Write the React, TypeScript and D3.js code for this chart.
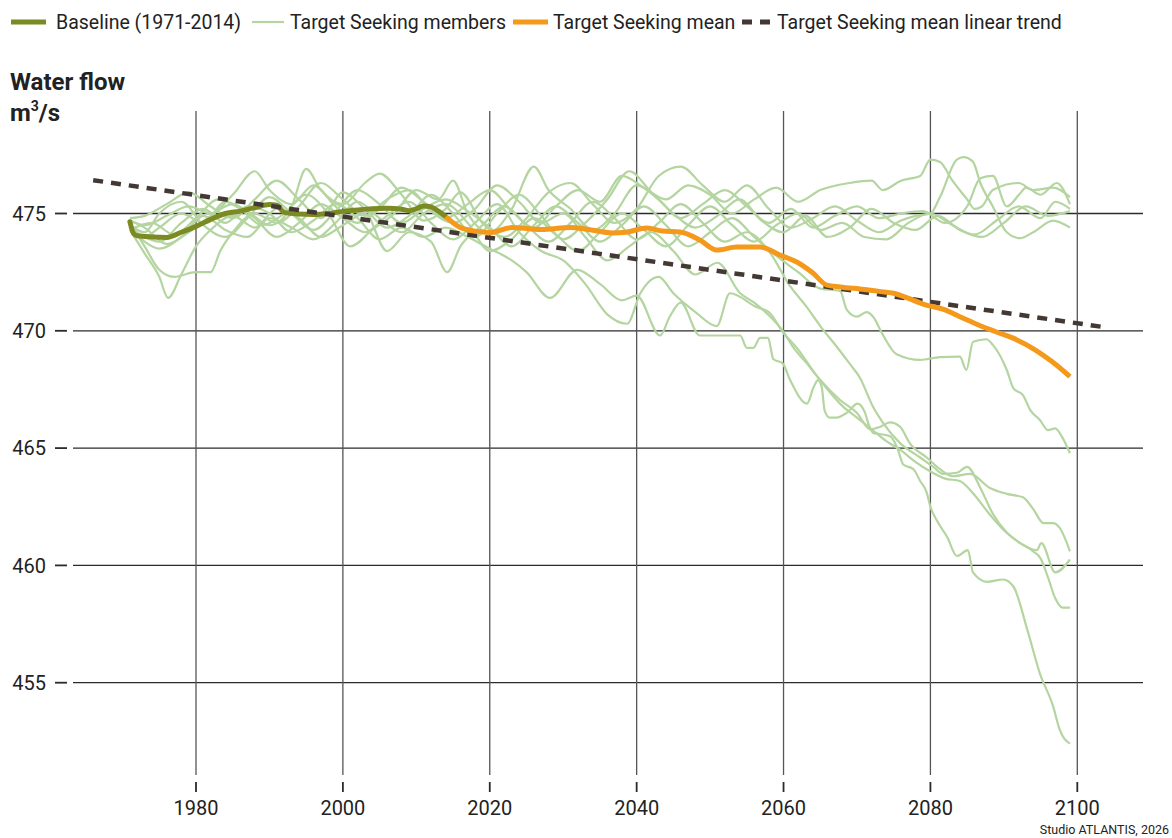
import React from "react";
import * as d3 from "d3";

type Pt = [number, number];

// Observed baseline mean, 1971-2014
const baseline: Pt[] = [
  [1971, 474.65], [1971.5, 474.15], [1972, 474.05], [1974, 474.0], [1976, 473.98],
  [1978, 474.2], [1980, 474.45], [1982, 474.75], [1984, 475.0], [1986, 475.1],
  [1988, 475.25], [1990, 475.38], [1991, 475.35], [1992, 475.05], [1994, 474.98],
  [1996, 474.96], [1998, 475.0], [2000, 475.09], [2002, 475.15], [2004, 475.2],
  [2006, 475.22], [2008, 475.18], [2009, 475.12], [2010, 475.2], [2011, 475.32],
  [2012, 475.28], [2013, 475.1], [2014, 474.87],
];

// Ensemble mean of the Target Seeking scenario
const targetMean: Pt[] = [
  [2014, 474.87], [2016, 474.4], [2018, 474.25], [2020, 474.19], [2023, 474.4],
  [2027, 474.32], [2031, 474.4], [2033, 474.34], [2036.8, 474.17], [2038.5, 474.2],
  [2041.4, 474.38], [2043.5, 474.25], [2045.9, 474.21], [2048.6, 473.87], [2050.9, 473.44],
  [2053.6, 473.57], [2056.8, 473.57], [2059.5, 473.23], [2061.8, 472.93], [2064, 472.46],
  [2065.9, 471.95], [2067.7, 471.87], [2071, 471.76], [2073, 471.68], [2075, 471.6],
  [2076.4, 471.46], [2079.2, 471.12], [2081.9, 470.9], [2084, 470.6], [2086.4, 470.27],
  [2089, 469.95], [2091.1, 469.71], [2094.2, 469.2], [2096.5, 468.7], [2099, 468.05],
];

// Linear trend of the scenario mean
const trend: Pt[] = [[1966, 476.42], [2104, 470.14]];

// Individual ensemble members
const memberA: Pt[] = [
  [1971, 474.7], [1973, 474.5], [1976, 474.9], [1979, 475.3], [1982, 475.0], [1985, 475.8],
  [1988, 476.8], [1990, 476.0], [1993, 475.4], [1996, 476.2], [1999, 475.3], [2002, 474.6],
  [2005, 475.2], [2008, 476.1], [2011, 475.5], [2014, 474.8], [2017, 475.4], [2020, 476.0],
  [2023, 475.1], [2026, 474.4], [2029, 475.3], [2032, 476.0], [2035, 475.5], [2038, 476.6],
  [2041, 476.1], [2044, 475.6], [2047, 476.2], [2050, 475.8], [2053, 475.0], [2056, 475.6],
  [2059, 476.1], [2062, 475.5], [2065, 476.0], [2069, 476.3], [2072, 476.4], [2073.5, 476.0],
  [2076, 476.4], [2078.6, 476.6], [2080, 477.3], [2081.3, 477.2], [2083, 476.4], [2085, 475.6],
  [2086, 475.2], [2087, 475.3], [2088.5, 476.0], [2092, 476.3], [2094, 476.0], [2096.7, 476.1],
  [2099, 475.7],
];
const memberB: Pt[] = [
  [1971, 474.5], [1973, 474.0], [1975, 474.4], [1978, 475.0], [1981, 474.6], [1984, 475.5],
  [1987, 475.1], [1990, 474.5], [1993, 475.3], [1995, 476.9], [1997, 476.0], [2000, 475.4],
  [2003, 476.3], [2005, 476.7], [2008, 475.8], [2011, 474.7], [2014, 475.2], [2016, 475.9],
  [2019, 474.6], [2022, 474.0], [2025, 474.8], [2028, 475.9], [2031, 476.3], [2034, 475.4],
  [2037, 474.6], [2040, 475.2], [2043, 476.6], [2046, 477.0], [2049, 476.2], [2052, 475.5],
  [2055, 476.2], [2058, 475.2], [2061, 474.4], [2064, 474.8], [2067, 475.3], [2070, 474.7],
  [2073, 474.2], [2076, 474.7], [2078, 474.9], [2080, 475.0], [2081.3, 475.7], [2083.6, 477.3],
  [2084.5, 477.4], [2085.8, 477.2], [2086.8, 476.3], [2088.5, 475.3], [2090.4, 474.2],
  [2092.2, 473.95], [2094, 474.2], [2096.7, 474.7], [2099, 474.4],
];
const memberC: Pt[] = [
  [1971, 474.3], [1974, 474.6], [1977, 474.1], [1980, 474.8], [1983, 475.6], [1986, 475.2],
  [1989, 474.5], [1992, 475.0], [1995, 475.8], [1998, 475.0], [2001, 473.6], [2004, 474.3],
  [2007, 475.0], [2010, 476.0], [2013, 475.6], [2015, 476.4], [2017, 475.0], [2020, 474.2],
  [2023, 475.2], [2026, 477.0], [2028, 476.0], [2031, 475.2], [2034, 474.3], [2037, 475.0],
  [2040, 476.2], [2043, 475.6], [2046, 474.8], [2049, 475.4], [2052, 476.0], [2055, 475.3],
  [2058, 474.6], [2061, 475.2], [2064, 474.4], [2067, 474.9], [2070, 475.3], [2073, 474.8],
  [2076, 475.0], [2079, 475.1], [2082, 474.6], [2085, 475.3], [2086.8, 476.5], [2088.5, 476.6],
  [2090.4, 475.3], [2092.2, 475.85], [2093, 476.1], [2095, 475.8], [2097.2, 476.3], [2099, 475.4],
];
const memberD: Pt[] = [
  [1971, 474.8], [1973, 474.9], [1976, 475.4], [1979, 475.9], [1982, 475.3], [1985, 474.8],
  [1988, 475.6], [1991, 476.4], [1994, 475.6], [1997, 474.8], [2000, 475.9], [2003, 475.2],
  [2006, 474.4], [2009, 474.9], [2012, 475.8], [2015, 475.0], [2018, 474.0], [2021, 475.0],
  [2024, 475.8], [2027, 474.9], [2030, 473.9], [2033, 474.6], [2036, 475.6], [2039, 476.8],
  [2042, 475.9], [2045, 475.0], [2048, 474.4], [2051, 474.9], [2054, 475.6], [2057, 474.7],
  [2060, 474.2], [2063, 474.9], [2066, 474.0], [2069, 474.4], [2072, 475.2], [2075, 474.6],
  [2078, 474.3], [2081, 474.9], [2084, 474.3], [2087, 474.0], [2090, 474.6], [2093, 475.3],
  [2096, 474.9], [2099, 475.1],
];
const memberE: Pt[] = [
  [1971, 474.4], [1973, 473.8], [1975, 473.5], [1978, 474.0], [1981, 474.9], [1984, 474.3],
  [1987, 474.0], [1990, 474.8], [1993, 474.4], [1996, 473.9], [1999, 474.6], [2002, 475.5],
  [2005, 474.8], [2008, 474.2], [2011, 475.0], [2014, 475.4], [2017, 474.6], [2020, 473.4],
  [2023, 473.9], [2026, 474.8], [2029, 474.1], [2032, 473.4], [2035, 474.2], [2038, 475.0],
  [2041, 474.3], [2044, 473.6], [2047, 474.5], [2050, 475.3], [2053, 474.5], [2056, 473.8],
  [2059, 474.5], [2062, 475.0], [2065, 474.3], [2068, 474.6], [2071, 474.0], [2074, 473.9],
  [2077, 474.6], [2080, 475.0], [2083, 474.5], [2086, 474.1], [2089, 474.7], [2092, 475.3],
  [2095, 474.8], [2097, 475.5], [2099, 475.2],
];
const memberF: Pt[] = [
  [1971, 474.5], [1973, 474.2], [1975, 475.0], [1978, 475.5], [1981, 474.5], [1984, 474.0],
  [1987, 474.8], [1990, 475.7], [1993, 475.0], [1996, 474.3], [1999, 475.1], [2002, 476.0],
  [2005, 475.4], [2008, 474.6], [2011, 475.2], [2014, 475.6], [2017, 475.1], [2020, 474.4],
  [2023, 473.6], [2026, 474.5], [2029, 475.3], [2032, 474.6], [2035, 473.8], [2038, 474.5],
  [2041, 475.3], [2044, 474.5], [2047, 473.6], [2050, 474.2], [2053, 474.8], [2056, 474.0],
  [2059, 473.2], [2062, 472.5], [2065, 471.8], [2067.7, 471.7], [2068.6, 470.9], [2070, 470.6],
  [2071.3, 470.8], [2072.2, 470.6], [2073.4, 469.9], [2075.4, 469.0], [2078.6, 468.76],
  [2081.3, 468.88], [2084, 468.9], [2084.9, 468.33], [2085.8, 469.53], [2087.6, 469.64],
  [2088.5, 469.4], [2090.4, 468.33], [2091.3, 467.55], [2092.6, 467.26], [2093.6, 466.62],
  [2094.9, 466.2], [2096, 465.77], [2097, 465.84], [2097.9, 465.49], [2099, 464.78],
];
const memberG: Pt[] = [
  [1971, 474.6], [1973, 473.6], [1975, 472.6], [1977, 472.3], [1980, 472.5], [1982, 472.5],
  [1983.3, 473.4], [1985, 474.2], [1988, 475.0], [1991, 474.6], [1994, 475.3], [1997, 476.3],
  [2000, 475.6], [2003, 474.9], [2006, 475.6], [2009, 476.0], [2012, 475.1], [2015, 474.6],
  [2018, 475.2], [2021, 476.2], [2024, 475.5], [2027, 474.6], [2030, 475.0], [2033, 474.0],
  [2036, 473.0], [2039, 473.6], [2042, 474.2], [2045, 473.4], [2048, 472.4], [2051, 472.9],
  [2054.1, 471.6], [2056, 471.2], [2058.2, 470.6], [2059.9, 470.0], [2061.3, 469.3],
  [2063.2, 468.6], [2065, 467.9], [2067.7, 467.05], [2070, 466.5], [2071.8, 465.8],
  [2073.1, 465.9], [2074.5, 466.1], [2075.9, 465.9], [2077.2, 465.2], [2079.5, 464.6],
  [2081.3, 464.1], [2083, 463.8], [2085.4, 463.9], [2088.1, 463.3], [2090.4, 463.05],
  [2092.6, 462.9], [2094, 462.4], [2095.4, 461.8], [2096.7, 461.8], [2097.6, 461.6], [2099, 460.6],
];
const memberH: Pt[] = [
  [1971, 474.3], [1973, 473.3], [1975, 472.3], [1976.2, 471.4], [1978, 472.4], [1980, 473.6],
  [1982, 474.3], [1985, 474.9], [1988, 474.4], [1991, 475.2], [1994, 474.8], [1997, 474.0],
  [2000, 474.5], [2003, 475.0], [2006, 473.4], [2009, 474.2], [2012, 473.8], [2014.2, 472.5],
  [2016, 473.6], [2019, 474.5], [2022, 475.3], [2025, 474.5], [2028, 473.8], [2031, 474.6],
  [2034, 475.5], [2037, 474.8], [2040, 473.9], [2043, 474.6], [2046, 475.4], [2049, 474.6],
  [2052, 473.8], [2055, 474.2], [2058, 473.4], [2060.9, 471.9], [2063.2, 471.0], [2065, 470.2],
  [2067.3, 469.3], [2069, 468.6], [2070.4, 468.0], [2072.2, 466.75], [2073.5, 466.1],
  [2075.9, 465.2], [2078.6, 464.6], [2080.4, 464.2], [2081.7, 463.9], [2083.6, 463.95],
  [2085, 464.2], [2086.8, 463.3], [2088.5, 462.2], [2090.4, 461.4], [2092.2, 460.95],
  [2094.5, 460.65], [2095.1, 460.95], [2097, 459.7], [2099, 460.25],
];
const memberI: Pt[] = [
  [1971, 474.7], [1973, 474.4], [1976, 473.7], [1979, 474.2], [1982, 474.9], [1985, 475.4],
  [1988, 474.8], [1991, 474.0], [1994, 474.6], [1997, 475.4], [2000, 474.8], [2003, 474.2],
  [2006, 474.9], [2009, 475.5], [2012, 474.6], [2015, 473.9], [2018, 474.6], [2021, 475.4],
  [2024, 474.2], [2027, 473.4], [2030, 473.0], [2033, 472.0], [2036, 470.7], [2038.7, 470.3],
  [2040.5, 471.6], [2043, 472.3], [2045, 471.6], [2048, 470.8], [2050.9, 470.2], [2052.7, 471.6],
  [2056.4, 471.0], [2058, 470.8], [2060, 469.9], [2062, 469.2], [2064, 468.3], [2066, 467.5],
  [2068, 466.8], [2070, 466.3], [2072, 465.8], [2074, 465.3], [2076, 464.9], [2078, 464.4],
  [2080, 464.0], [2082, 463.7], [2084, 463.6], [2086, 463.0], [2088, 462.2], [2090, 461.5],
  [2092, 461.0], [2094, 460.6], [2095, 460.3], [2096, 459.5], [2097, 458.6], [2098, 458.2],
  [2099, 458.2],
];
const memberJ: Pt[] = [
  [1971, 474.4], [1973, 474.0], [1975, 473.8], [1978, 474.6], [1981, 475.2], [1984, 474.6],
  [1987, 475.3], [1990, 475.0], [1993, 474.2], [1996, 474.7], [1999, 475.4], [2002, 474.8],
  [2005, 473.9], [2008, 474.4], [2011, 474.0], [2014, 474.4], [2017, 474.0], [2020, 473.5],
  [2023, 473.0], [2025, 472.5], [2028.2, 471.4], [2031.9, 472.6], [2035, 472.0], [2038, 471.3],
  [2040, 471.5], [2043.2, 469.8], [2044.5, 470.6], [2046, 471.2], [2048.6, 469.8], [2051, 469.8],
  [2054.1, 469.8], [2055, 469.27], [2055.9, 469.27], [2056.8, 469.7], [2057.9, 469.7],
  [2058.6, 468.8], [2059.9, 468.6], [2060.9, 467.9], [2063.2, 466.9], [2064.1, 467.6],
  [2064.7, 467.9], [2065.2, 467.6], [2065.6, 466.6], [2066.3, 466.3], [2067.2, 466.3],
  [2068.6, 466.5], [2070.1, 466.9], [2071.1, 466.5], [2071.5, 466.1], [2072.2, 465.65],
  [2073.1, 465.6], [2074.5, 465.5], [2075.5, 465.0], [2076.3, 464.3], [2077.7, 464.1],
  [2078.6, 463.6], [2079.5, 463.1], [2080, 462.5], [2080.9, 461.9], [2082.3, 461.2],
  [2083.6, 460.4], [2085.1, 460.65], [2085.8, 459.7], [2087.7, 459.3], [2089.9, 459.4],
  [2091.3, 459.1], [2093.2, 457.25], [2094.9, 455.4], [2096.7, 454.0], [2097.6, 453.0],
  [2099, 452.4],
];

const members: Pt[][] = [
  memberA, memberB, memberC, memberD, memberE, memberF, memberG, memberH, memberI, memberJ,
];

const xTicks = [1980, 2000, 2020, 2040, 2060, 2080, 2100];
const yTicks = [455, 460, 465, 470, 475];

const legendLabels = [
  "Baseline (1971-2014)",
  "Target Seeking members",
  "Target Seeking mean",
  "Target Seeking mean linear trend",
];

const COLORS = {
  baseline: "#7b8a22",
  member: "#b4d5a0",
  mean: "#f4991a",
  trend: "#433833",
  grid: "#2b2b2b",
  text: "#222222",
};

const FONT = "Roboto, 'Noto Sans', sans-serif";

export default function App() {
  const width = 1172;
  const height = 838;

  const x = d3.scaleLinear().domain([1980, 2100]).range([196, 1077.3]);
  const y = d3.scaleLinear().domain([455, 475]).range([682.7, 213.5]);

  const line = d3
    .line<Pt>()
    .x((d) => x(d[0]))
    .y((d) => y(d[1]))
    .curve(d3.curveMonotoneX);

  const straight = d3
    .line<Pt>()
    .x((d) => x(d[0]))
    .y((d) => y(d[1]));

  const gridLeft = 73;
  const gridRight = 1143;
  const gridTop = 111;
  const gridBottom = 775;

  // legend layout: marker start, marker end, text start
  const legendPos = [
    { m0: 11, m1: 46, t: 56 },
    { m0: 252, m1: 284, t: 290 },
    { m0: 513, m1: 548, t: 553 },
    { m0: 742, m1: 771, t: 777 },
  ];
  const legendY = 22;

  return (
    <svg
      width={width}
      height={height}
      viewBox={`0 0 ${width} ${height}`}
      style={{ position: "absolute", left: 0, top: 0, background: "#fff" }}
      fontFamily={FONT}
    >
      <rect width={width} height={height} fill="#fff" />

      {/* legend */}
      <g>
        <line x1={legendPos[0].m0} x2={legendPos[0].m1} y1={legendY} y2={legendY}
          stroke={COLORS.baseline} strokeWidth={5} />
        <line x1={legendPos[1].m0} x2={legendPos[1].m1} y1={legendY} y2={legendY}
          stroke={COLORS.member} strokeWidth={2.2} />
        <line x1={legendPos[2].m0} x2={legendPos[2].m1} y1={legendY} y2={legendY}
          stroke={COLORS.mean} strokeWidth={5} />
        <line x1={legendPos[3].m0} x2={legendPos[3].m1} y1={legendY} y2={legendY}
          stroke={COLORS.trend} strokeWidth={5} strokeDasharray="10 8" />
        {legendLabels.map((label, i) => (
          <text key={label} x={legendPos[i].t} y={legendY} dy="0.35em"
            fontSize={19.5} fill={COLORS.text}>
            {label}
          </text>
        ))}
      </g>

      {/* axis title */}
      <text x={10} y={90} fontSize={24} fontWeight={700} fill={COLORS.text}>Water flow</text>
      <text x={10} y={121} fontSize={24} fontWeight={700} fill={COLORS.text}>
        m<tspan fontSize={14} dy={-10}>3</tspan><tspan dy={10}>/s</tspan>
      </text>

      {/* horizontal grid + y ticks */}
      <g>
        {yTicks.map((t) => (
          <g key={t}>
            <line x1={gridLeft} x2={gridRight} y1={y(t)} y2={y(t)}
              stroke={COLORS.grid} strokeWidth={1.3} />
            <line x1={55} x2={67} y1={y(t)} y2={y(t)} stroke={COLORS.grid} strokeWidth={1.8} />
            <text x={46} y={y(t)} dy="0.36em" textAnchor="end" fontSize={20} fill={COLORS.text}>
              {t}
            </text>
          </g>
        ))}
      </g>

      {/* vertical grid + x ticks */}
      <g>
        {xTicks.map((t) => (
          <g key={t}>
            <line x1={x(t)} x2={x(t)} y1={gridTop} y2={gridBottom}
              stroke="#555" strokeWidth={1.3} />
            <line x1={x(t)} x2={x(t)} y1={782} y2={792} stroke={COLORS.grid} strokeWidth={1.8} />
            <text x={x(t)} y={815} textAnchor="middle" fontSize={20} fill={COLORS.text}>
              {t}
            </text>
          </g>
        ))}
      </g>

      {/* ensemble members */}
      <g fill="none" stroke={COLORS.member} strokeWidth={2.2} strokeLinejoin="round">
        {members.map((m, i) => (
          <path key={i} d={line(m) ?? ""} />
        ))}
      </g>

      {/* baseline */}
      <path d={line(baseline) ?? ""} fill="none" stroke={COLORS.baseline} strokeWidth={5}
        strokeLinejoin="round" strokeLinecap="round" />

      {/* linear trend */}
      <path d={straight(trend) ?? ""} fill="none" stroke={COLORS.trend} strokeWidth={4.5}
        strokeDasharray="10 8" />

      {/* scenario mean */}
      <path d={line(targetMean) ?? ""} fill="none" stroke={COLORS.mean} strokeWidth={5}
        strokeLinejoin="round" />

      {/* credits */}
      <text x={1169} y={834} textAnchor="end" fontSize={12.5} fill={COLORS.text}>
        Studio ATLANTIS, 2026
      </text>
    </svg>
  );
}
